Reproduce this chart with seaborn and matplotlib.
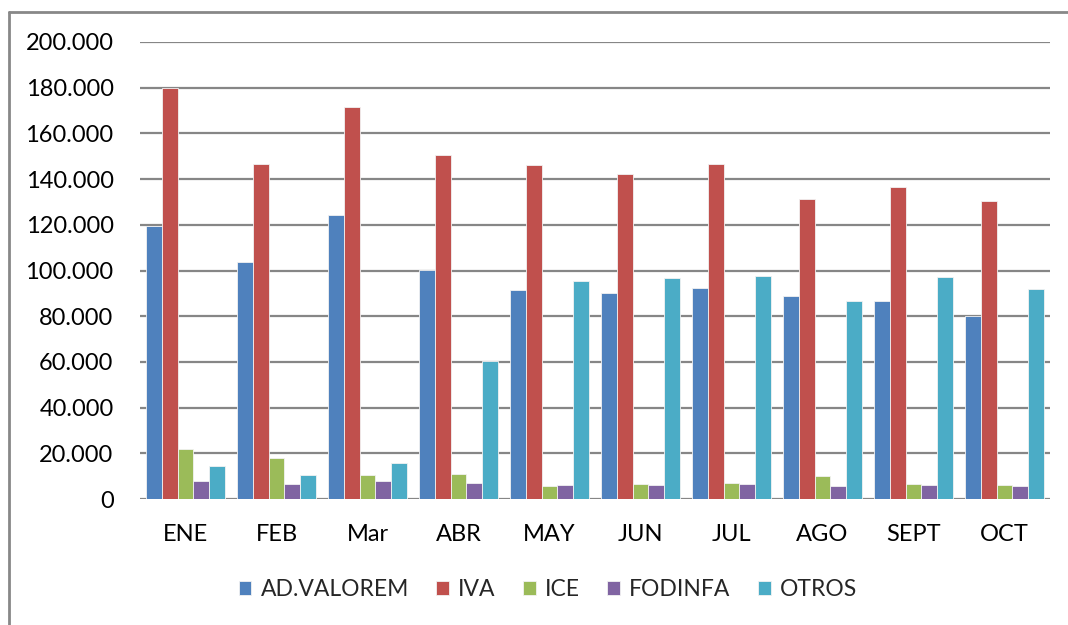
import pandas as pd
import numpy as np
import seaborn as sns
import matplotlib.pyplot as plt
from matplotlib.ticker import FuncFormatter
from matplotlib.lines import Line2D

meses = ['ENE', 'FEB', 'Mar', 'ABR', 'MAY', 'JUN', 'JUL', 'AGO', 'SEPT', 'OCT']
series = ['AD.VALOREM', 'IVA', 'ICE', 'FODINFA', 'OTROS']

ad_valorem = [119500, 103700, 124400, 100200, 91300, 90000, 92200, 88700, 86500, 80000]
iva = [180000, 146700, 171400, 150500, 146200, 142200, 146500, 131200, 136500, 130500]
ice = [21700, 17900, 10700, 10800, 5800, 6600, 7000, 9900, 6600, 6000]
fodinfa = [8000, 6400, 7900, 6900, 6300, 6300, 6400, 5800, 6000, 5600]
otros = [14300, 10500, 15800, 60400, 95500, 96700, 97700, 86700, 97200, 91800]

colores = ['#4F81BD', '#C0504D', '#9BBB59', '#8064A2', '#4BACC6']

valores = [ad_valorem, iva, ice, fodinfa, otros]
rows = []
for s, vals in zip(series, valores):
    for m, v in zip(meses, vals):
        rows.append({'mes': m, 'serie': s, 'valor': v})
df = pd.DataFrame(rows)

sns.set_style("white")
plt.rcParams['font.family'] = ['Lato', 'DejaVu Sans']

fig = plt.figure(figsize=(10.68, 6.25), dpi=100)
ax = fig.add_axes([140/1068, 1-499/625, 910/1068, 457/625])

sns.barplot(data=df, x='mes', y='valor', hue='serie', order=meses, hue_order=series,
            palette=colores, saturation=1, width=0.87, gap=0, edgecolor='#f2f2f2',
            linewidth=0.6, errorbar=None, ax=ax, zorder=3)

ax.set_ylim(0, 200000)
ax.set_yticks(np.arange(0, 200001, 20000))
ax.yaxis.set_major_formatter(FuncFormatter(lambda v, p: f"{int(v):,}".replace(",", ".")))
ax.grid(axis='y', color='#868686', linewidth=1.6, zorder=0)
ax.set_axisbelow(True)
for sp in ax.spines.values():
    sp.set_visible(False)
ax.tick_params(axis='both', length=0, labelsize=17, colors='black')
ax.tick_params(axis='y', pad=19)
ax.tick_params(axis='x', pad=18)
ax.set_xlabel('')
ax.set_ylabel('')

ax.legend(loc='center', bbox_to_anchor=(0.513, 1-590/625), bbox_transform=fig.transFigure,
          ncol=5, frameon=False, fontsize=16.5, handlelength=0.55, handleheight=0.55,
          handletextpad=0.4, columnspacing=1.2)

# marco del grafico
fig.add_artist(Line2D([9/1068, 9/1068], [0, 1-12/625], color='#888888', linewidth=2))
fig.add_artist(Line2D([9/1068, 1], [1-12/625, 1-12/625], color='#888888', linewidth=2))

fig.savefig('out.png', dpi=100)
